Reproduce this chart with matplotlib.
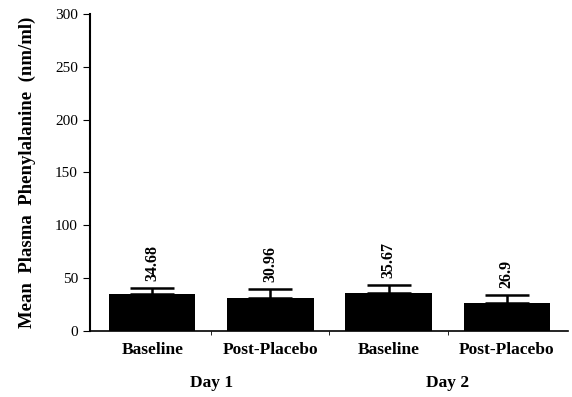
import matplotlib
matplotlib.use('Agg')
import matplotlib.pyplot as plt
import numpy as np
from matplotlib.transforms import blended_transform_factory

# values
groups = ['Baseline', 'Post-Placebo', 'Baseline', 'Post-Placebo']
means = [34.68, 30.96, 35.67, 26.9]
errors = [6.3, 8.5, 8.0, 7.0]
value_labels = ['34.68', '30.96', '35.67', '26.9']
days = ['Day 1', 'Day 2']

plt.rcParams['font.family'] = ['Liberation Serif', 'DejaVu Serif']

fig = plt.figure(figsize=(5.72, 3.97), dpi=100)
ax = fig.add_axes([0.157, 0.166, 0.836, 0.799])

x = np.arange(len(means))
ax.bar(x, means, width=0.73, color='black')
ax.errorbar(x, means, yerr=[np.zeros(len(errors)), errors], fmt='none',
            ecolor='black', elinewidth=1.8, capsize=16, capthick=1.8)

for xi, m, e, lab in zip(x, means, errors, value_labels):
    ax.annotate(lab, (xi, m + e), xytext=(0, 5), textcoords='offset points',
                rotation=90, ha='center', va='bottom', fontsize=11.5,
                fontweight='semibold')

ax.set_xlim(-0.53, 3.52)
ax.set_ylim(0, 300)
ax.set_yticks(np.arange(0, 301, 50))
ax.set_xticks(x)
ax.set_xticklabels(groups, fontsize=12.5, fontweight='bold')
ax.set_xticks([0.5, 1.5, 2.5], minor=True)
ax.tick_params(axis='x', which='major', length=0, pad=8)
ax.tick_params(axis='x', which='minor', length=3, direction='out')
ax.tick_params(axis='y', length=5, direction='out', labelsize=11)

ax.spines['top'].set_visible(False)
ax.spines['right'].set_visible(False)
ax.spines['left'].set_linewidth(1.5)
ax.spines['bottom'].set_linewidth(1.2)

ax.set_ylabel('Mean  Plasma  Phenylalanine  (nm/ml)', fontsize=13.5,
              fontweight='bold', labelpad=14)

trans = blended_transform_factory(ax.transData, ax.transAxes)
for pos, d in zip([0.5, 2.5], days):
    ax.text(pos, -0.165, d, transform=trans, ha='center', va='center',
            fontsize=12.5, fontweight='bold')

fig.savefig('out.png', dpi=100)
